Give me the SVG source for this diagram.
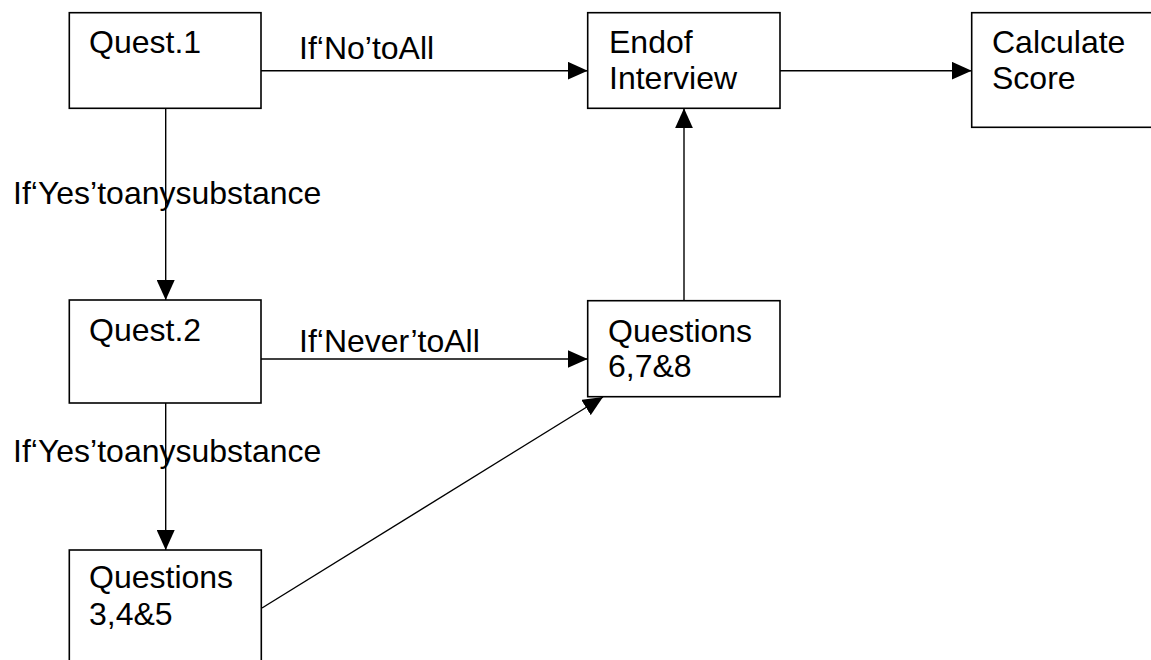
<svg xmlns="http://www.w3.org/2000/svg" width="1151" height="660" viewBox="0 0 1151 660">
  <style>
    .box { fill: #ffffff; stroke: #000000; stroke-width: 1.6; }
    .lbl { font-family: "Liberation Sans", Arial, sans-serif; font-size: 32px; fill: #000000; }
    .edge { fill: none; stroke: #000000; stroke-width: 1.4; marker-end: url(#arrow); }
  </style>
  <defs>
    <marker id="arrow" markerUnits="userSpaceOnUse" markerWidth="20" markerHeight="18" refX="20" refY="9" orient="auto">
      <path d="M0,0 L20,9 L0,18 z" fill="#000000"/>
    </marker>
  </defs>
  <rect width="1151" height="660" fill="#ffffff"/>

  <!-- connectors -->
  <g id="connectors">
    <line class="edge" x1="261" y1="70.7" x2="587.7" y2="70.7"/>
    <line class="edge" x1="780" y1="70.7" x2="971.7" y2="70.7"/>
    <line class="edge" x1="165.7" y1="108.3" x2="165.7" y2="300"/>
    <line class="edge" x1="261" y1="359" x2="587.7" y2="359"/>
    <line class="edge" x1="684" y1="300.7" x2="684" y2="108.3"/>
    <line class="edge" x1="165.7" y1="403" x2="165.7" y2="550"/>
    <line class="edge" x1="262" y1="608" x2="603" y2="397"/>
    <text class="lbl" x="299" y="59">If‘No’toAll</text>
    <text class="lbl" x="13" y="204">If‘Yes’toanysubstance</text>
    <text class="lbl" x="299" y="352">If‘Never’toAll</text>
    <text class="lbl" x="13" y="462">If‘Yes’toanysubstance</text>
  </g>

  <!-- nodes -->
  <g id="quest1">
    <rect class="box" x="69.3" y="12.7" width="191.7" height="95.6"/>
    <text class="lbl" x="89" y="53">Quest.1</text>
  </g>
  <g id="end-of-interview">
    <rect class="box" x="587.7" y="12.7" width="192.3" height="95.6"/>
    <text class="lbl" x="609" y="53">Endof</text>
    <text class="lbl" x="609" y="89">Interview</text>
  </g>
  <g id="calculate-score">
    <rect class="box" x="971.7" y="12.7" width="190" height="114.6"/>
    <text class="lbl" x="992" y="53">Calculate</text>
    <text class="lbl" x="992" y="89">Score</text>
  </g>
  <g id="quest2">
    <rect class="box" x="69.3" y="300" width="191.7" height="103"/>
    <text class="lbl" x="89" y="341">Quest.2</text>
  </g>
  <g id="questions-6-7-8">
    <rect class="box" x="587.7" y="300.7" width="192.3" height="96"/>
    <text class="lbl" x="608" y="342">Questions</text>
    <text class="lbl" x="608" y="377">6,7&amp;8</text>
  </g>
  <g id="questions-3-4-5">
    <rect class="box" x="69.3" y="550" width="192" height="130"/>
    <text class="lbl" x="89" y="588">Questions</text>
    <text class="lbl" x="89" y="625">3,4&amp;5</text>
  </g>
</svg>
